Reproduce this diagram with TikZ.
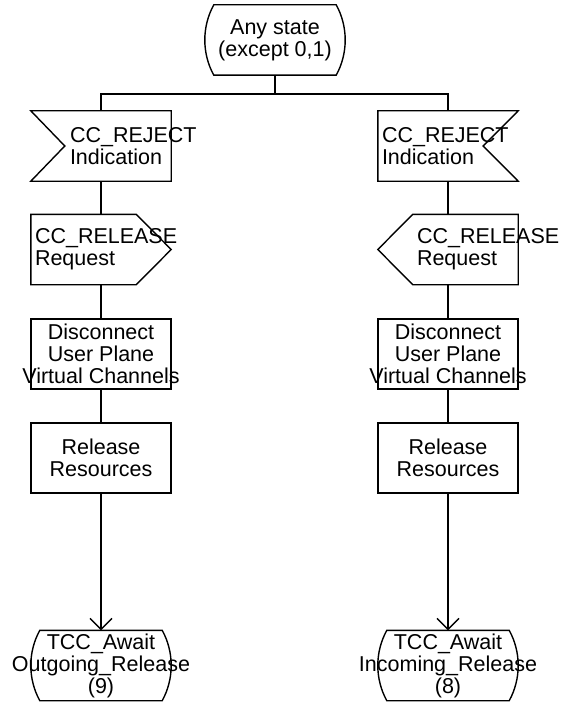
\documentclass[tikz,border=0pt]{standalone}
\usepackage{fontspec}
\setmainfont{Liberation Sans}
\usetikzlibrary{arrows.meta, calc}
\hyphenpenalty=10000
\tikzset{
  sdl/.style={font=\fontsize{21.5}{22}\selectfont, inner sep=0pt,
    minimum width=140pt, minimum height=70pt},
  task/.style={sdl, draw, line width=1.4pt, align=center},
  statebox/.style={sdl, minimum width=122pt, align=center},
  sigbox/.style={sdl, text width=140pt, align=left,
    execute at begin node={\leftskip=#1}},
  flow/.style={draw, line width=1.4pt},
  arr/.style={flow, -{Straight Barb[length=11pt, width=22pt, line width=1.4pt]}},
}

\begin{document}
\begin{tikzpicture}[x=1pt, y=-1pt]
\useasboundingbox (0,0) rectangle (566,706);

% ---- start state
\node[statebox] (any) at (275,40) {Any state\\(except 0,1)};
\coordinate (split) at (275,94);

% ---- left branch
\node[sigbox=39pt] (rejL) at (101,146) {CC\_REJECT\\Indication};
\node[sigbox=4pt] (relL) at (101,249.5) {CC\_RELEASE\\Request};
\node[task] (discL) at (101,354) {Disconnect\\User Plane\\\makebox[0pt]{Virtual Channels}};
\node[task] (resL) at (101,458) {Release\\Resources};
\node[statebox] (waitL) at (101,665.5) {TCC\_Await\\\makebox[0pt]{Outgoing\_Release}\\(9)};

% ---- right branch
\node[sigbox=4pt] (rejR) at (448,146) {CC\_REJECT\\Indication};
\node[sigbox=39pt] (relR) at (448,249.5) {CC\_RELEASE\\Request};
\node[task] (discR) at (448,354) {Disconnect\\User Plane\\\makebox[0pt]{Virtual Channels}};
\node[task] (resR) at (448,458) {Release\\Resources};
\node[statebox] (waitR) at (448,665.5) {TCC\_Await\\\makebox[0pt]{Incoming\_Release}\\(8)};

% ---- outlines
\foreach \n in {any, waitL, waitR} {
  \draw[flow] (\n.north west) -- (\n.north east)
    .. controls ($(\n.north east)+(12,21.8)$) and ($(\n.south east)+(12,-21.8)$) .. (\n.south east)
    -- (\n.south west)
    .. controls ($(\n.south west)+(-12,-21.8)$) and ($(\n.north west)+(-12,21.8)$) .. (\n.north west)
    -- cycle;
}
\draw[flow] (rejL.north west) -- (rejL.north east) -- (rejL.south east)
  -- (rejL.south west) -- ($(rejL.west)+(34pt,0)$) -- cycle;
\draw[flow] (rejR.north west) -- (rejR.north east) -- ($(rejR.east)+(-35pt,0)$)
  -- (rejR.south east) -- (rejR.south west) -- cycle;
\draw[flow] (relL.north west) -- ($(relL.north east)+(-35pt,0)$) -- (relL.east)
  -- ($(relL.south east)+(-35pt,0)$) -- (relL.south west) -- cycle;
\draw[flow] (relR.west) -- ($(relR.north west)+(35pt,0)$) -- (relR.north east)
  -- (relR.south east) -- ($(relR.south west)+(35pt,0)$) -- cycle;

% ---- connectors
\draw[flow] (any) -- (split);
\draw[flow] (split) -| (rejL);
\draw[flow] (split) -| (rejR);
\foreach \a/\b in {rejL/relL, relL/discL, discL/resL, rejR/relR, relR/discR, discR/resR} {
  \draw[flow] (\a) -- (\b);
}
\draw[arr] (resL) -- (waitL);
\draw[arr] (resR) -- (waitR);

\end{tikzpicture}
\end{document}
